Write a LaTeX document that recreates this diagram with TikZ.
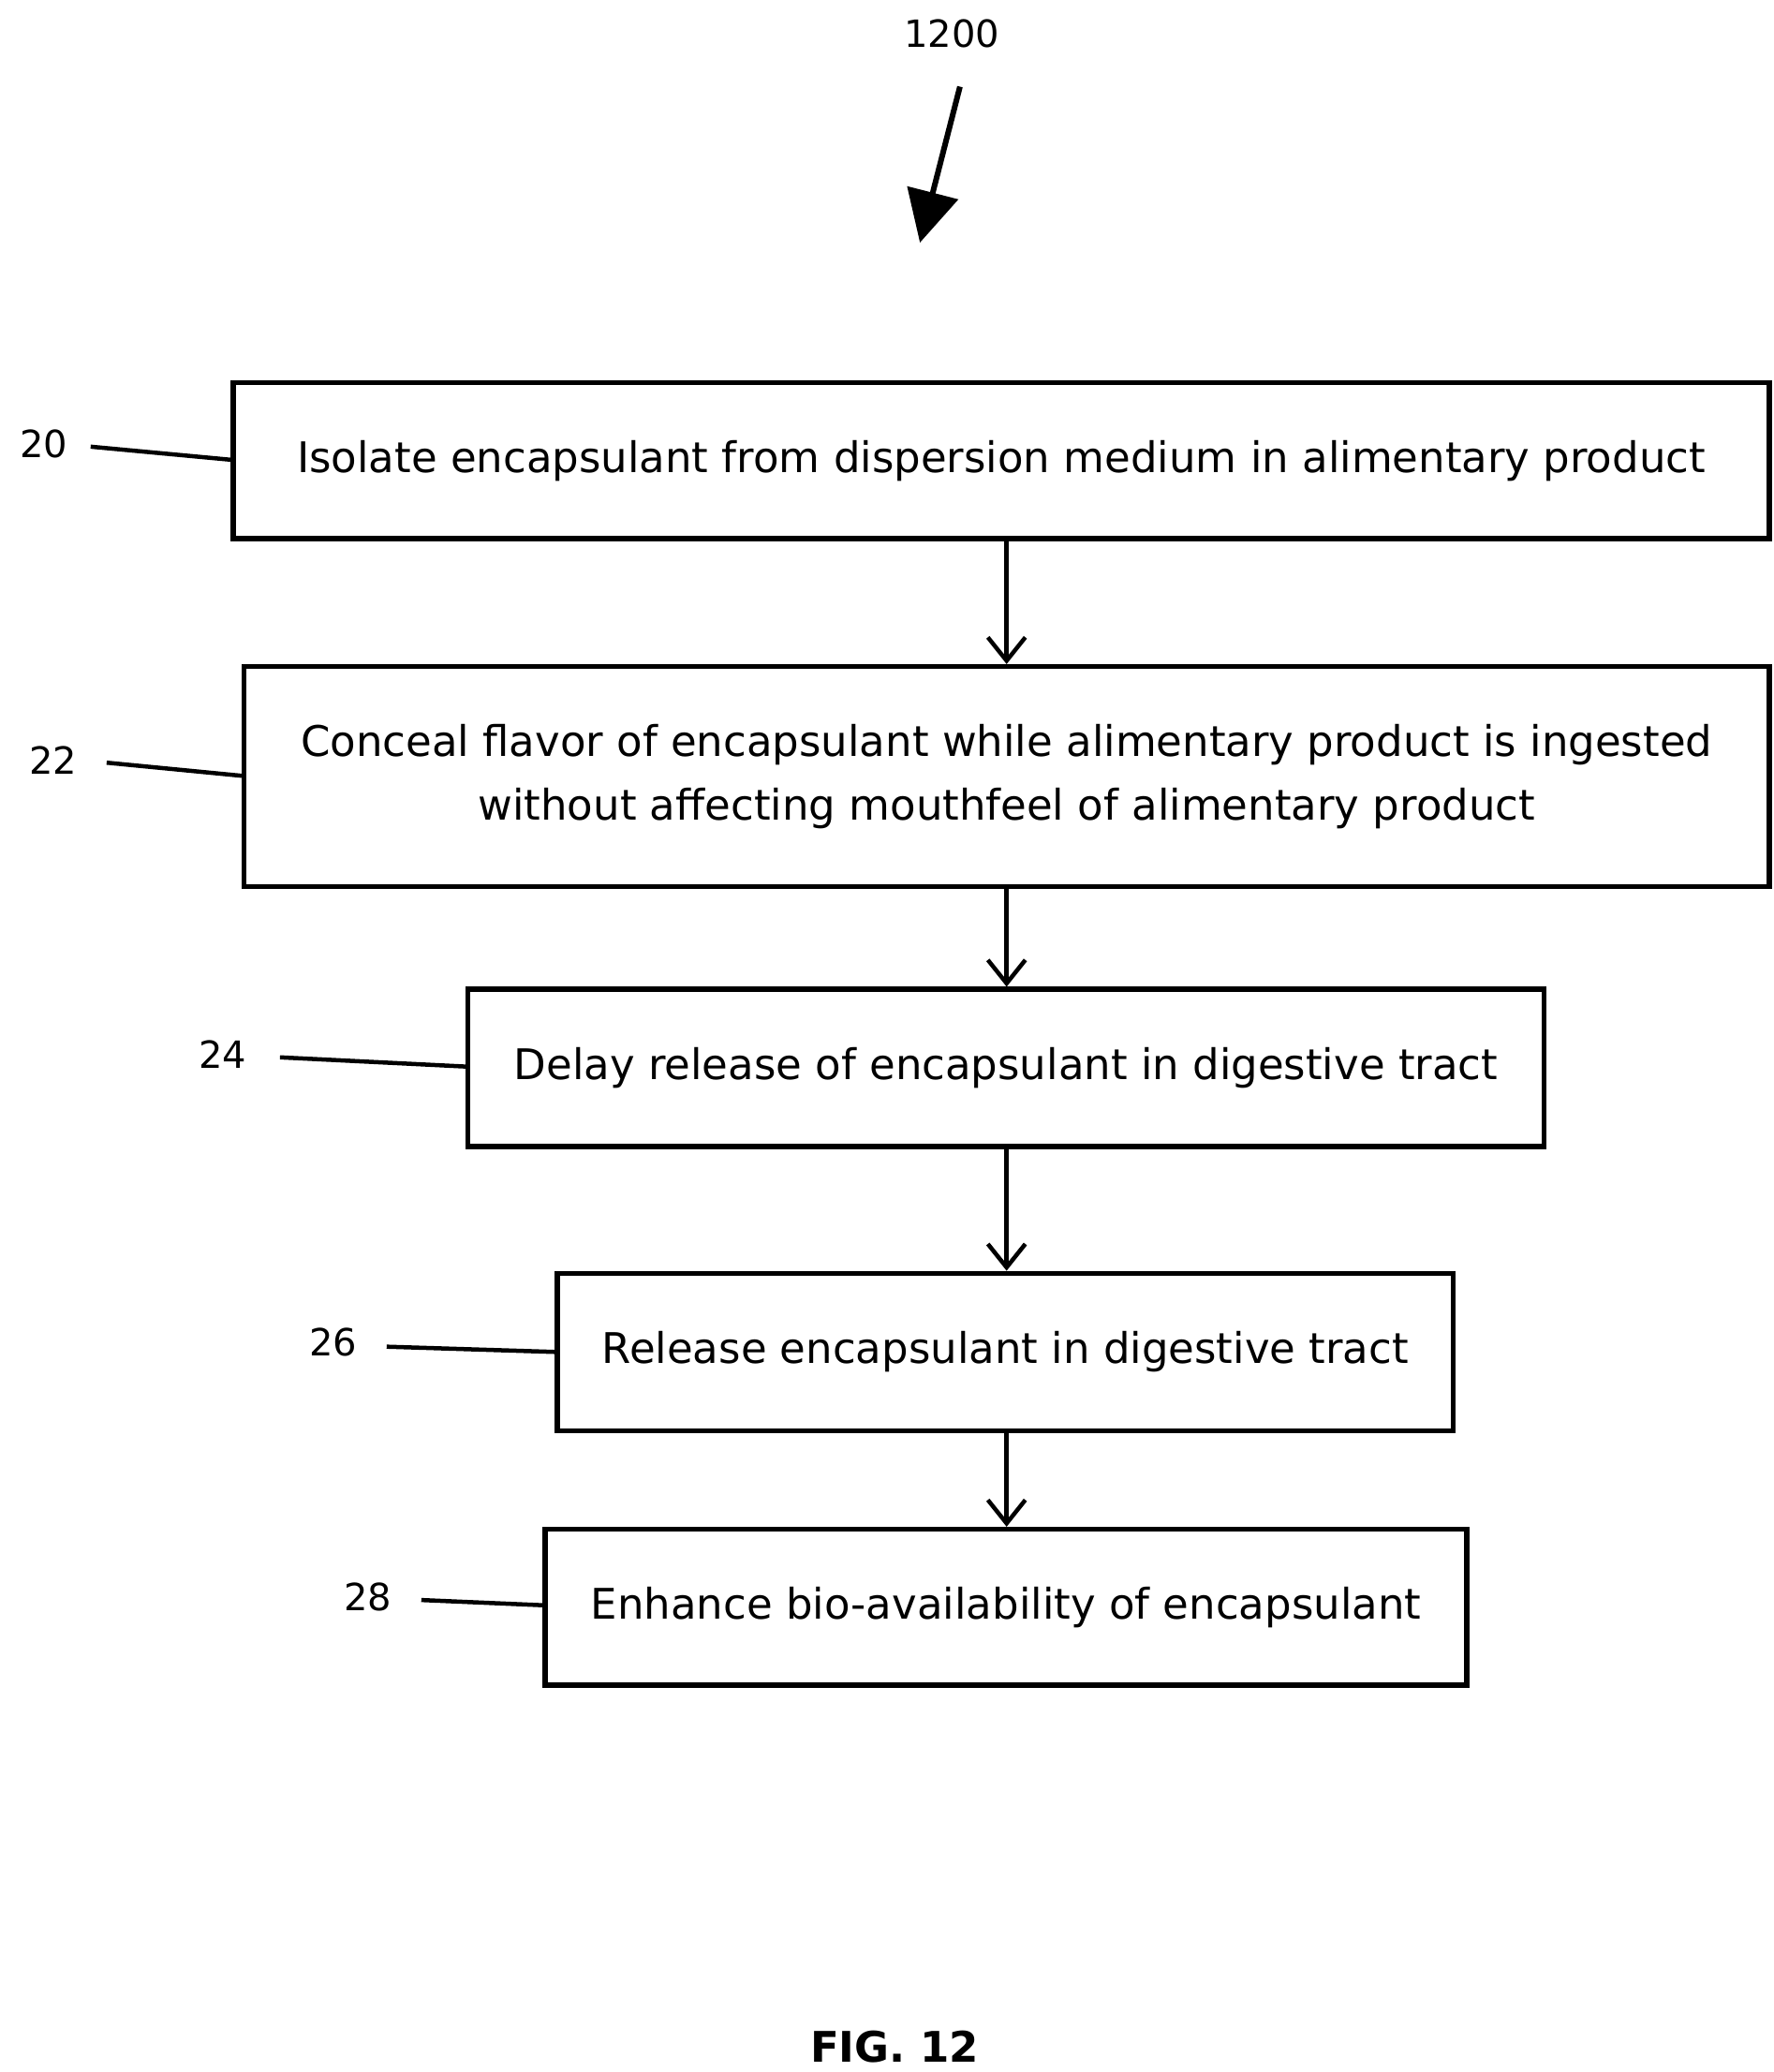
\documentclass[tikz,border=0pt]{standalone}
\usepackage{fontspec}
\setmainfont{DejaVu Sans}
\usetikzlibrary{arrows.meta}
\begin{document}
\begin{tikzpicture}[x=0.02cm,y=-0.02cm,
  box/.style={draw,line width=2.2pt,inner sep=0pt,font=\fontsize{18}{27}\selectfont,align=center},
  lab/.style={font=\fontsize{16}{19}\selectfont},
  ld/.style={line width=1.8pt},
  ar/.style={line width=1.8pt,-{Straight Barb[length=10pt,width=16pt,line width=1.8pt]}}]
\useasboundingbox (0,0) rectangle (1330,1554);
\node[box,minimum width=1152*0.02cm,minimum height=117*0.02cm] (b1) at (751,345.5) {Isolate encapsulant from dispersion medium in alimentary product};
\node[box,minimum width=1144*0.02cm,minimum height=165*0.02cm] (b2) at (755,582.5) {Conceal flavor of encapsulant while alimentary product is ingested\\without affecting mouthfeel of alimentary product};
\node[box,minimum width=807*0.02cm,minimum height=118*0.02cm] (b3) at (754.5,801) {Delay release of encapsulant in digestive tract};
\node[box,minimum width=672*0.02cm,minimum height=118*0.02cm] (b4) at (754,1014) {Release encapsulant in digestive tract};
\node[box,minimum width=691*0.02cm,minimum height=117*0.02cm] (b5) at (754.5,1205.5) {Enhance bio-availability of encapsulant};
\draw[ar] (b1.south -| 755,0) -- (b2.north -| 755,0);
\draw[ar] (b2.south -| 755,0) -- (b3.north -| 755,0);
\draw[ar] (b3.south -| 755,0) -- (b4.north -| 755,0);
\draw[ar] (b4.south -| 755,0) -- (b5.north -| 755,0);
\node[lab] (l20) at (33,333) {20};
\node[lab] (l22) at (40,570) {22};
\node[lab] (l24) at (167,791) {24};
\node[lab] (l26) at (250,1007) {26};
\node[lab] (l28) at (276,1198) {28};
\coordinate (c20) at (175,345); \draw[ld] (68,335) -- (c20);
\coordinate (c22) at (183,582); \draw[ld] (80,572) -- (c22);
\coordinate (c24) at (351,800); \draw[ld] (210,793) -- (c24);
\coordinate (c26) at (418,1014); \draw[ld] (290,1010) -- (c26);
\coordinate (c28) at (409,1204); \draw[ld] (316,1200) -- (c28);
\node[lab] (t1200) at (714,25) {1200};
\coordinate (a1) at (720,65); \coordinate (a2) at (690,182);
\draw[line width=2.4pt,-{Triangle[length=22pt,width=22pt]}] (a1) -- (a2);
\node[font=\bfseries\fontsize{18}{21}\selectfont] (fig) at (671,1535) {FIG. 12};
\end{tikzpicture}
\end{document}
